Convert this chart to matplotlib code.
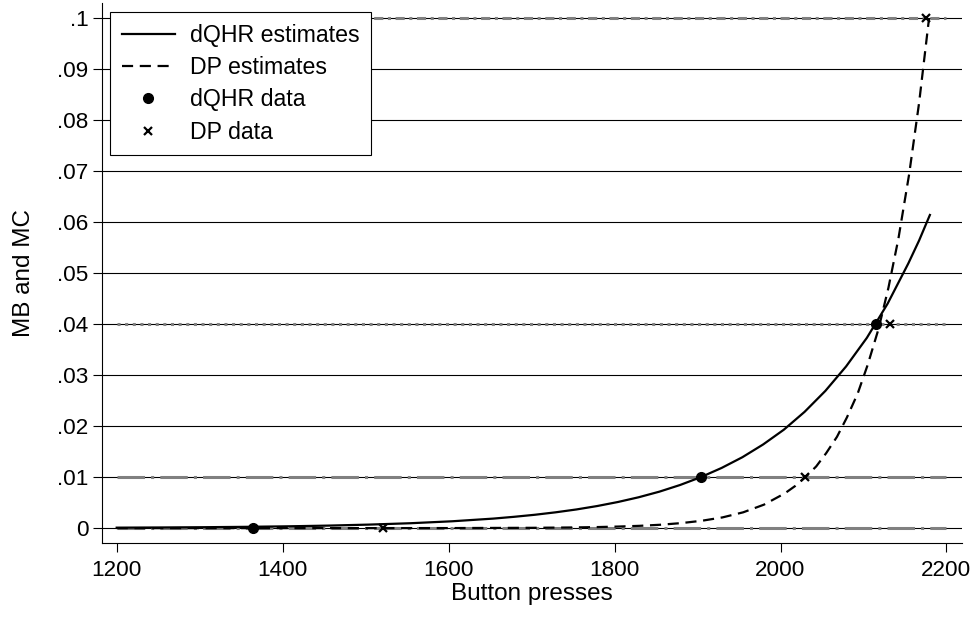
import numpy as np
import matplotlib
matplotlib.use('Agg')
import matplotlib.pyplot as plt

plt.rcParams['font.family'] = ['Liberation Sans', 'DejaVu Sans']

# values
dqhr_est_x = [1200, 1254, 1304, 1354, 1404, 1454, 1504, 1554, 1604, 1654, 1679, 1704, 1729, 1754,
              1779, 1804, 1829, 1854, 1879, 1904, 1929, 1954, 1979, 2004, 2029, 2054, 2079, 2104,
              2129, 2154, 2167, 2180]
dqhr_est_y = [0.00009, 0.00013, 0.00018, 0.00025, 0.00035, 0.00049, 0.00069, 0.00096, 0.00134, 0.00187,
              0.00222, 0.00262, 0.00310, 0.00366, 0.00433, 0.00512, 0.00605, 0.00715, 0.00846, 0.0100,
              0.0118, 0.0139, 0.0164, 0.0193, 0.0228, 0.0269, 0.0317, 0.0373, 0.0440, 0.0519,
              0.0564, 0.0614]

dp_est_x = [1200, 1500, 1600, 1700, 1750, 1780, 1805, 1830, 1855, 1880, 1905, 1930, 1955, 1980,
            2005, 2018, 2030, 2043, 2055, 2068, 2080, 2093, 2105, 2118, 2130, 2142, 2155, 2167, 2179]
dp_est_y = [0.0, 0.000002, 0.00001, 0.00006, 0.00013, 0.00021, 0.00031, 0.00045, 0.00066, 0.00098,
            0.00144, 0.0021, 0.0031, 0.0046, 0.0068, 0.0083, 0.0100, 0.0121, 0.0147, 0.0179,
            0.0217, 0.0264, 0.0320, 0.0390, 0.0471, 0.0567, 0.0694, 0.0834, 0.1000]

dqhr_data_x = [1364, 1904, 2115]
dqhr_data_y = [0, 0.01, 0.04]
dp_data_x = [1521, 2030, 2132, 2175]
dp_data_y = [0, 0.01, 0.04, 0.1]

mb_levels = [0, 0.01, 0.04, 0.1]
y_ticks = [0, 0.01, 0.02, 0.03, 0.04, 0.05, 0.06, 0.07, 0.08, 0.09, 0.1]
y_labels = ['0', '.01', '.02', '.03', '.04', '.05', '.06', '.07', '.08', '.09', '.1']
x_ticks = [1200, 1400, 1600, 1800, 2000, 2200]

fig = plt.figure(figsize=(9.77, 6.2), dpi=100)
ax = fig.add_axes([0.1044, 0.124, 0.880, 0.871])

# grid
for yv in y_ticks:
    ax.axhline(yv, color='black', lw=0.8, zorder=1)

# MB reference lines (grey patterns)
styles = {0: (0, (9, 2, 1, 2)), 0.01: (0, (9, 2, 1, 2)), 0.04: (0, (1, 1.5)), 0.1: (0, (3, 1.5, 1, 1.5))}
for yv in mb_levels:
    ax.plot([1200, 2200], [yv, yv], color='#808080', lw=2.2, linestyle=styles[yv], zorder=2)

ax.plot(dqhr_est_x, dqhr_est_y, color='black', lw=1.6, label='dQHR estimates', zorder=4)
ax.plot(dp_est_x, dp_est_y, color='black', lw=1.6, linestyle=(0, (5, 3)), label='DP estimates', zorder=4)
ax.plot(dqhr_data_x, dqhr_data_y, 'o', color='black', markersize=7, label='dQHR data', zorder=5)
ax.plot(dp_data_x, dp_data_y, 'x', color='black', markersize=6, mew=1.6, label='DP data', zorder=5)

ax.set_xlim(1182.3, 2218.4)
ax.set_ylim(-0.00294, 0.10294)
ax.set_xticks(x_ticks)
ax.set_yticks(y_ticks)
ax.set_yticklabels(y_labels)
ax.tick_params(labelsize=16.2, length=6.3, width=0.8, color='black')
ax.tick_params(axis='x', pad=5.5)
ax.tick_params(axis='y', pad=3.5)
ax.spines['top'].set_visible(False)
ax.spines['right'].set_visible(False)
ax.spines['left'].set_linewidth(0.8)
ax.spines['bottom'].set_linewidth(0.8)
ax.set_xlabel('Button presses', fontsize=17.5, labelpad=2)
ax.set_ylabel('MB and MC', fontsize=17.5, labelpad=16)

leg = ax.legend(loc='upper left', bbox_to_anchor=(0.0093, 0.983), borderaxespad=0, fontsize=16.7,
                fancybox=False, framealpha=1, edgecolor='black', handlelength=2.3,
                labelspacing=0.4, borderpad=0.5, handletextpad=0.65)
leg.get_frame().set_linewidth(0.8)

fig.savefig('out.png', dpi=100)
